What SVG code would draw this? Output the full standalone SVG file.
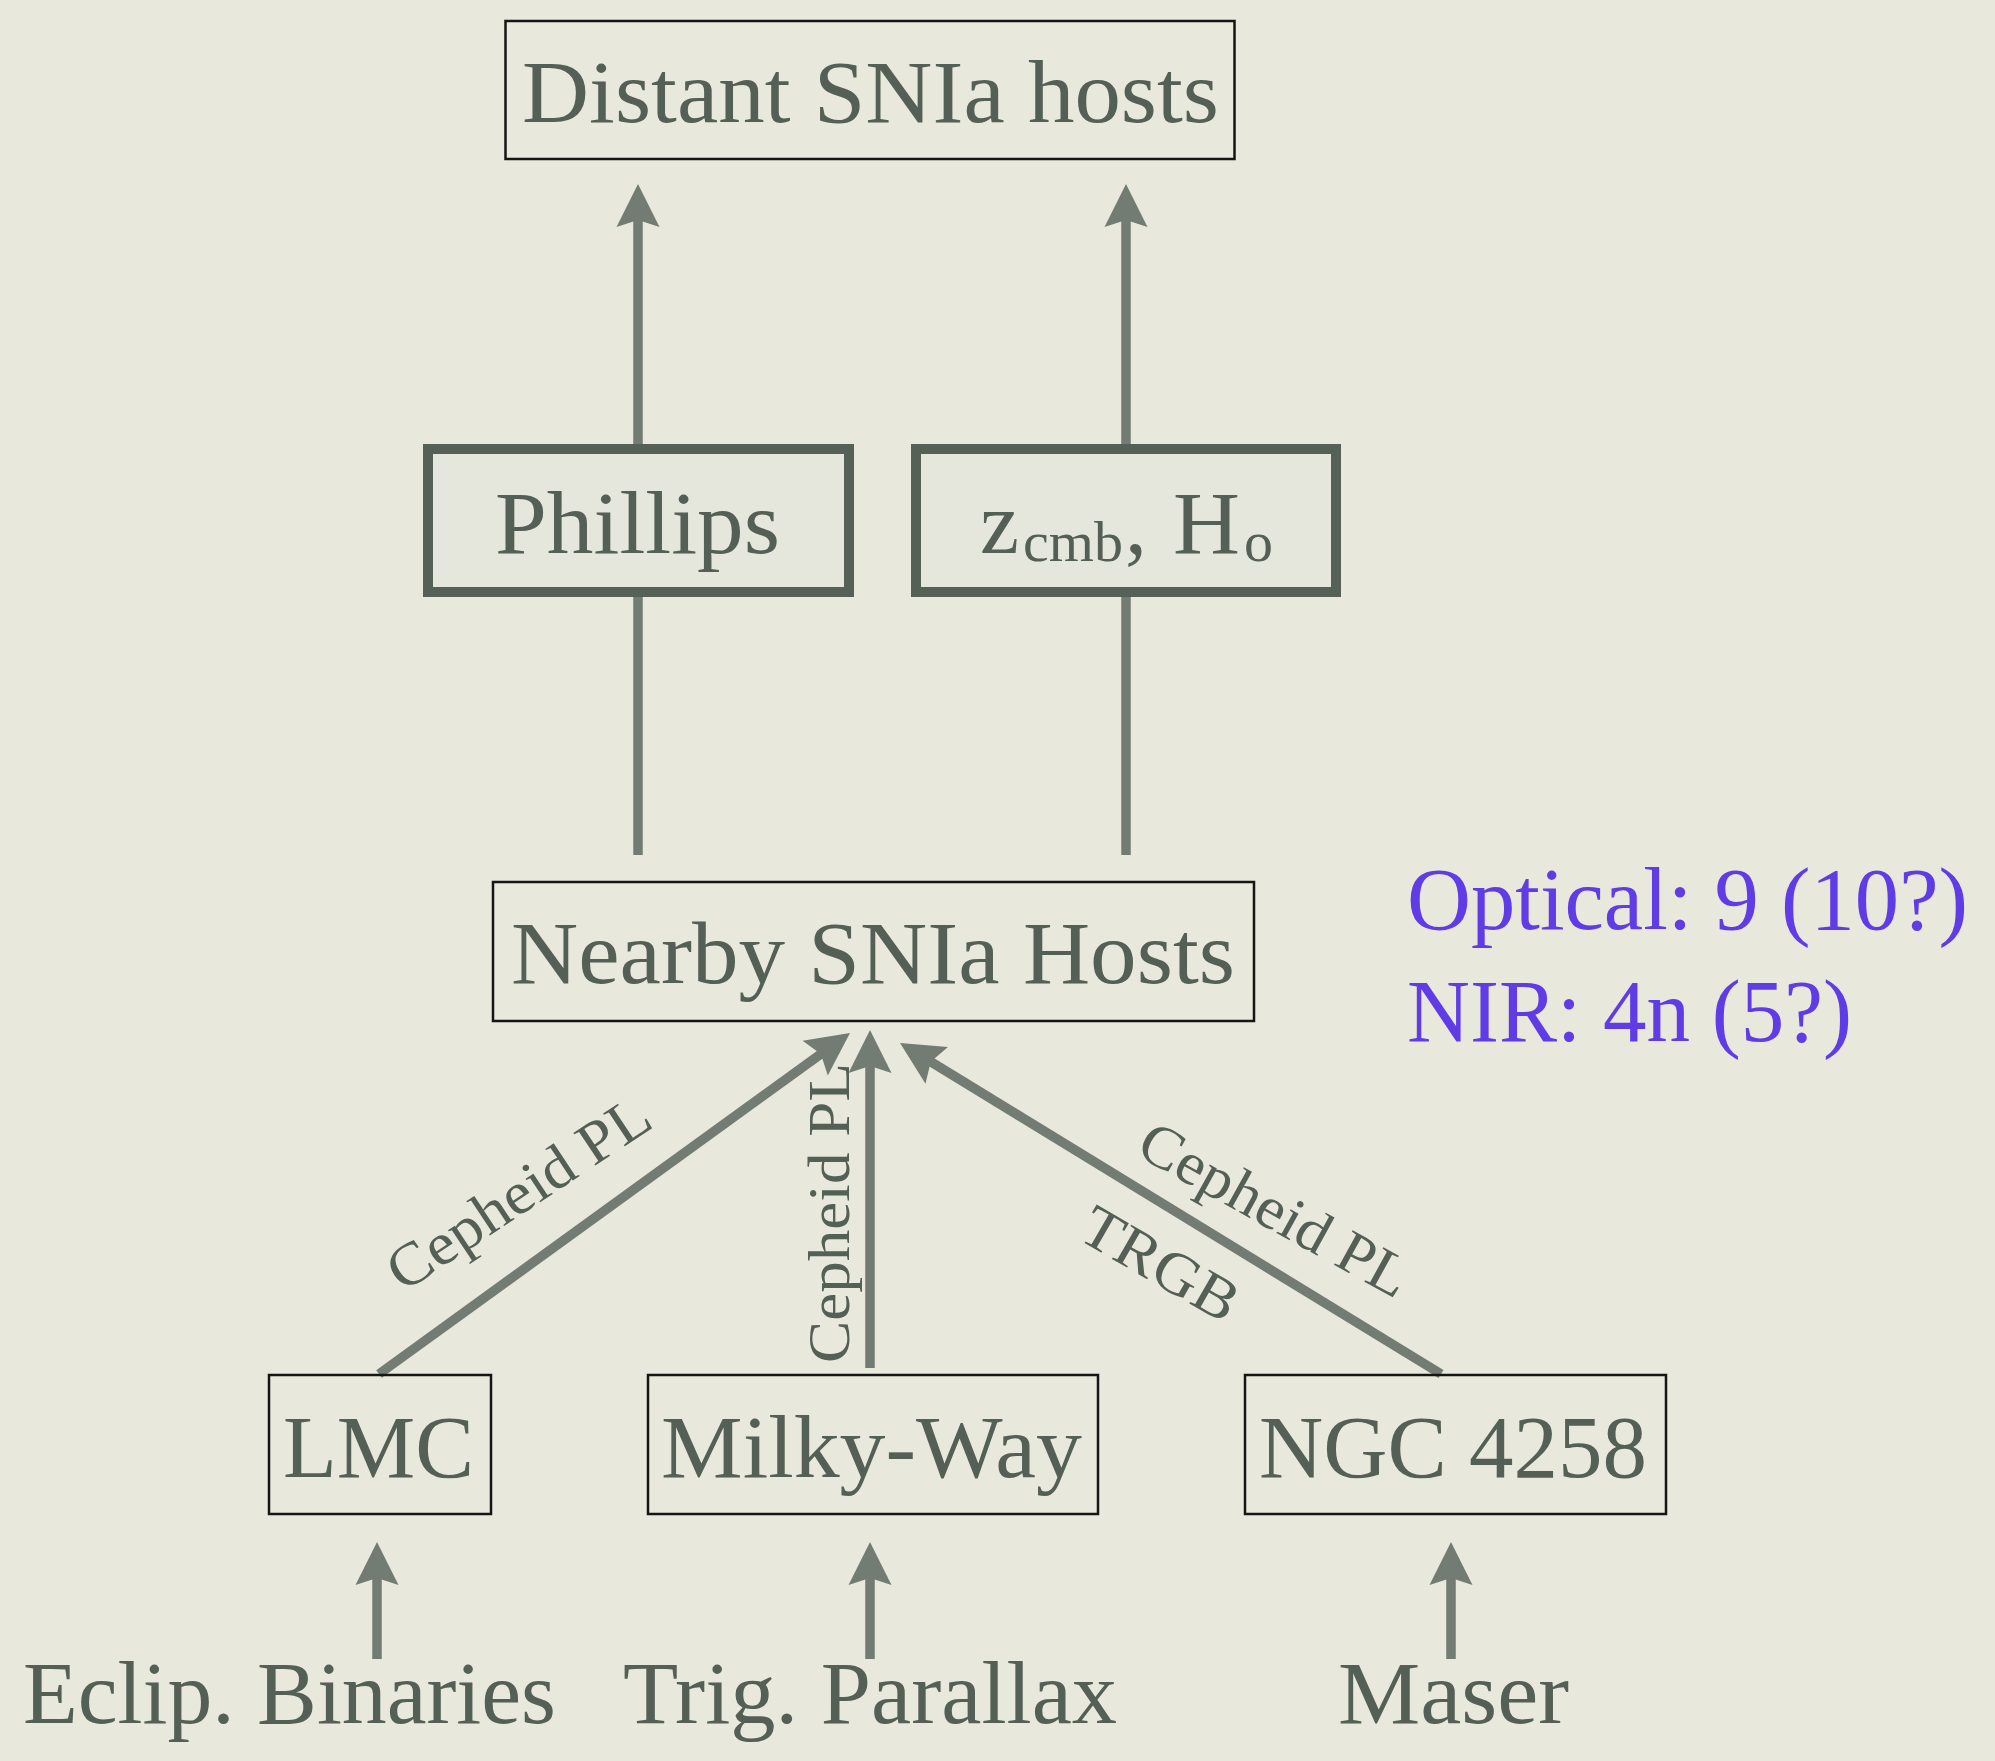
<svg xmlns="http://www.w3.org/2000/svg" width="1995" height="1761" viewBox="0 0 1995 1761">
  <style>
    .t { font-family: "Liberation Serif", "DejaVu Serif", serif; fill: #545f55; }
    .big { font-size: 88px; }
    .lbl { font-size: 60px; }
    .purple { fill: #5f3ce6; }
    .thin { fill: none; stroke: #151515; stroke-width: 2.5; }
    .thick { fill: #e6e7dc; stroke: #556157; stroke-width: 10; }
    .conn { fill: none; stroke: #727c73; stroke-width: 9.5; }
  </style>
  <defs>
    <marker id="ah" markerUnits="userSpaceOnUse" orient="auto" refX="0" refY="0" markerWidth="60" markerHeight="60" viewBox="-30 -30 60 60" overflow="visible">
      <path d="M20,0 L-23,-21.5 L-16,0 L-23,21.5 Z" fill="#727c73"/>
    </marker>
  </defs>
  <rect x="0" y="0" width="1995" height="1761" fill="#e8e8dc"/>

  <g id="connectors">
    <line class="conn" x1="638" y1="444" x2="638" y2="204" marker-end="url(#ah)"/>
    <line class="conn" x1="1126" y1="444" x2="1126" y2="204" marker-end="url(#ah)"/>
    <line class="conn" x1="638" y1="597" x2="638" y2="855"/>
    <line class="conn" x1="1126" y1="597" x2="1126" y2="855"/>
    <line class="conn" x1="379" y1="1374" x2="833.8" y2="1044.7" marker-end="url(#ah)"/>
    <line class="conn" x1="870" y1="1368" x2="870" y2="1050" marker-end="url(#ah)"/>
    <line class="conn" x1="1441" y1="1374" x2="917.1" y2="1053.4" marker-end="url(#ah)"/>
    <line class="conn" x1="377" y1="1659" x2="377" y2="1562" marker-end="url(#ah)"/>
    <line class="conn" x1="870" y1="1659" x2="870" y2="1562" marker-end="url(#ah)"/>
    <line class="conn" x1="1451" y1="1659" x2="1451" y2="1562" marker-end="url(#ah)"/>
    <text class="t lbl" transform="translate(403,1293) rotate(-33.5)" textLength="303" lengthAdjust="spacingAndGlyphs">Cepheid PL</text>
    <text class="t lbl" transform="translate(849,1363) rotate(-90)" textLength="300" lengthAdjust="spacingAndGlyphs">Cepheid PL</text>
    <text class="t lbl" transform="translate(1134,1154) rotate(29)" textLength="300" lengthAdjust="spacingAndGlyphs">Cepheid PL</text>
    <text class="t lbl" transform="translate(1076,1238) rotate(30)" textLength="172" lengthAdjust="spacingAndGlyphs">TRGB</text>
  </g>

  <g id="distant">
    <rect class="thin" x="505.5" y="21" width="729" height="138"/>
    <text class="t big" x="522" y="122" textLength="697" lengthAdjust="spacingAndGlyphs">Distant SNIa hosts</text>
  </g>

  <g id="phillips">
    <rect class="thick" x="428" y="449" width="421" height="143"/>
    <text class="t big" x="495" y="553" textLength="285" lengthAdjust="spacingAndGlyphs">Phillips</text>
  </g>

  <g id="zcmb">
    <rect class="thick" x="916" y="449" width="420" height="143"/>
    <text class="t big" x="980" y="553">z</text>
    <text class="t" x="1023" y="561" font-size="58" textLength="100" lengthAdjust="spacingAndGlyphs">cmb</text>
    <text class="t big" x="1125" y="553">,</text>
    <text class="t big" x="1173" y="553" textLength="67" lengthAdjust="spacingAndGlyphs">H</text>
    <text class="t" x="1244" y="561" font-size="58">o</text>
  </g>

  <g id="nearby">
    <rect class="thin" x="493" y="882" width="761" height="139"/>
    <text class="t big" x="511" y="983" textLength="724" lengthAdjust="spacingAndGlyphs">Nearby SNIa Hosts</text>
  </g>

  <g id="counts">
    <text class="t big purple" x="1407" y="929" textLength="561" lengthAdjust="spacingAndGlyphs">Optical: 9 (10?)</text>
    <text class="t big purple" x="1407" y="1041" textLength="445" lengthAdjust="spacingAndGlyphs">NIR: 4n (5?)</text>
  </g>

  <g id="lmc">
    <rect class="thin" x="269" y="1375" width="222" height="139"/>
    <text class="t big" x="283" y="1477" textLength="191" lengthAdjust="spacingAndGlyphs">LMC</text>
  </g>

  <g id="milkyway">
    <rect class="thin" x="648" y="1375" width="450" height="139"/>
    <text class="t big" x="661" y="1477" textLength="421" lengthAdjust="spacingAndGlyphs">Milky-Way</text>
  </g>

  <g id="ngc4258">
    <rect class="thin" x="1245" y="1375" width="421" height="139"/>
    <text class="t big" x="1259" y="1477" textLength="388" lengthAdjust="spacingAndGlyphs">NGC 4258</text>
  </g>

  <g id="eclip">
    <text class="t big" x="23" y="1723" textLength="533" lengthAdjust="spacingAndGlyphs">Eclip. Binaries</text>
  </g>
  <g id="trig">
    <text class="t big" x="623" y="1723" textLength="494" lengthAdjust="spacingAndGlyphs">Trig. Parallax</text>
  </g>
  <g id="maser">
    <text class="t big" x="1338" y="1723" textLength="231" lengthAdjust="spacingAndGlyphs">Maser</text>
  </g>
</svg>
